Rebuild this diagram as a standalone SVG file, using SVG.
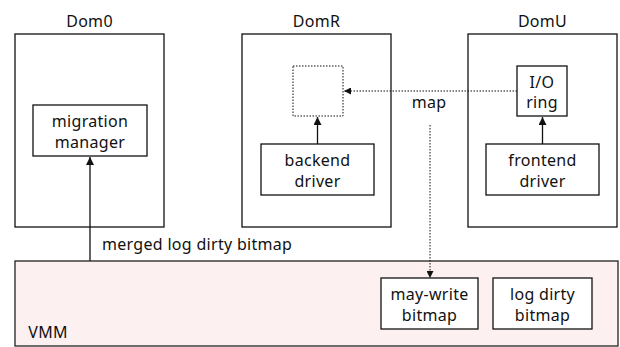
<svg xmlns="http://www.w3.org/2000/svg" width="620" height="347" viewBox="0 0 620 347">
<style>
text{font-family:"Noto Sans","DejaVu Sans",sans-serif;font-size:16px;fill:#111;text-anchor:middle;letter-spacing:0.3px}
.box{fill:#fff;stroke:#111;stroke-width:1.3}
.dot{fill:none;stroke:#111;stroke-width:1;stroke-dasharray:1.5 1.5}
.ln{fill:none;stroke:#111;stroke-width:1.3}
.dl{fill:none;stroke:#111;stroke-width:1;stroke-dasharray:1.5 1.5}
</style>
<defs>
<marker id="ah" viewBox="0 0 10 10" refX="10" refY="5" markerWidth="7" markerHeight="7" markerUnits="userSpaceOnUse" orient="auto">
<path d="M0,0 L10,5 L0,10 z" fill="#111"/>
</marker>
<marker id="ah2" viewBox="0 0 10 10" refX="10" refY="5" markerWidth="8" markerHeight="8" markerUnits="userSpaceOnUse" orient="auto">
<path d="M0,0 L10,5 L0,10 z" fill="#111"/>
</marker>
</defs>
<g id="vmm">
<rect x="15" y="261" width="603" height="85" fill="#fdf0f0" stroke="#222" stroke-width="1.3"/>
<text x="48" y="338">VMM</text>
</g>
<g id="dom0">
<rect class="box" x="15" y="34" width="149" height="193"/>
<text x="89.5" y="27">Dom0</text>
</g>
<g id="domr">
<rect class="box" x="242" y="34" width="149" height="193"/>
<text x="316.5" y="27">DomR</text>
</g>
<g id="domu">
<rect class="box" x="468" y="34" width="149" height="193"/>
<text x="542.5" y="27">DomU</text>
</g>
<g id="migration-manager">
<rect class="box" x="33" y="105" width="114" height="51"/>
<text x="90" y="127">migration</text>
<text x="90" y="148">manager</text>
</g>
<g id="mapped-page">
<rect class="dot" x="293" y="66" width="50" height="50"/>
</g>
<g id="backend-driver">
<rect class="box" x="261" y="144" width="113" height="51"/>
<text x="317.5" y="166">backend</text>
<text x="317.5" y="187">driver</text>
</g>
<g id="io-ring">
<rect class="box" x="517" y="66" width="50" height="50"/>
<text x="542" y="88">I/O</text>
<text x="542" y="108">ring</text>
</g>
<g id="frontend-driver">
<rect class="box" x="486" y="144" width="113" height="51"/>
<text x="542.5" y="166">frontend</text>
<text x="542.5" y="187">driver</text>
</g>
<g id="may-write-bitmap">
<rect class="box" x="381" y="278" width="97" height="51"/>
<text x="429.5" y="300">may-write</text>
<text x="429.5" y="321">bitmap</text>
</g>
<g id="log-dirty-bitmap">
<rect class="box" x="493" y="278" width="99" height="51"/>
<text x="542.5" y="300">log dirty</text>
<text x="542.5" y="321">bitmap</text>
</g>
<g id="connectors">
<line class="ln" x1="90" y1="261" x2="90" y2="157" marker-end="url(#ah2)"/>
<text x="102" y="250" style="text-anchor:start">merged log dirty bitmap</text>
<line class="ln" x1="317.5" y1="144" x2="317.5" y2="117" marker-end="url(#ah2)"/>
<line class="ln" x1="542.5" y1="144" x2="542.5" y2="117" marker-end="url(#ah2)"/>
<line class="dl" x1="517" y1="91" x2="344" y2="91" marker-end="url(#ah)"/>
<text x="429" y="108">map</text>
<line class="dl" x1="430" y1="125" x2="430" y2="278" marker-end="url(#ah)"/>
</g>
</svg>
